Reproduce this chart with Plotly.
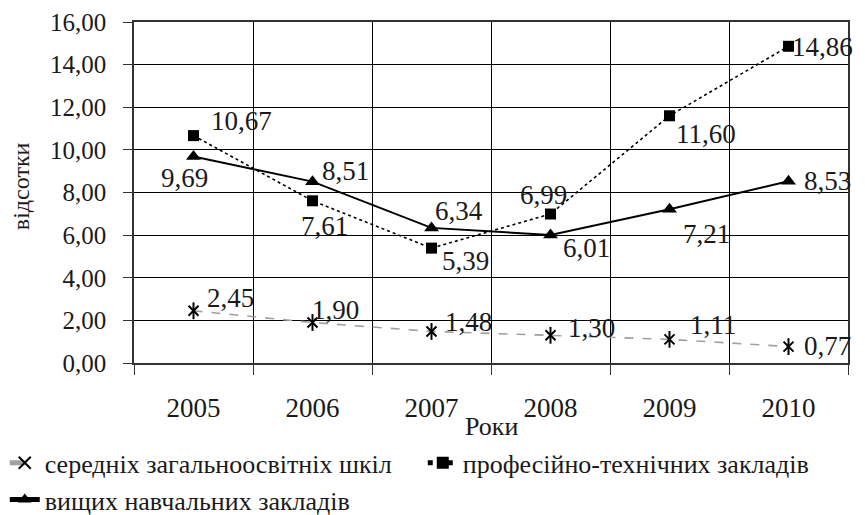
import plotly.graph_objects as go

years = ["2005", "2006", "2007", "2008", "2009", "2010"]
secondary = [2.45, 1.90, 1.48, 1.30, 1.11, 0.77]
vocational = [10.67, 7.61, 5.39, 6.99, 11.60, 14.86]
higher = [9.69, 8.51, 6.34, 6.01, 7.21, 8.53]

names = [
    "середніх загальноосвітніх шкіл",
    "професійно-технічних закладів",
    "вищих навчальних закладів",
]

# label offsets from the point, in px (dx right, dy down)
off_secondary = [(37, -13), (23, -13), (37, -9), (41, -7), (43, -14), (39, -1)]
off_vocational = [(48, -15), (12, 25), (34, 13), (-7, -19), (36, 18), (34, 1)]
off_higher = [(-9, 22), (33, -11), (27, -17), (36, 13), (37, 25), (39, 0)]

FONT = "Liberation Serif"
TXT = "#1a1a1a"


def lbl(v):
    return f"{v:.2f}".replace(".", ",")


fig = go.Figure()
fig.add_trace(go.Scatter(
    x=years, y=secondary, name=names[0], mode="lines+markers",
    line=dict(color="#a0a0a0", width=1.6, dash="dash"),
    marker=dict(symbol="x-thin-open", size=10, color="black", line=dict(color="black", width=2)),
))
# vertical stroke of the star marker
fig.add_trace(go.Scatter(
    x=years, y=secondary, mode="markers", showlegend=False, hoverinfo="skip",
    marker=dict(symbol="line-ns-open", size=12, color="black", line=dict(color="black", width=2)),
))
fig.add_trace(go.Scatter(
    x=years, y=vocational, name=names[1], mode="lines+markers",
    line=dict(color="black", width=1.6, dash="dot"),
    marker=dict(symbol="square", size=11, color="black"),
))
fig.add_trace(go.Scatter(
    x=years, y=higher, name=names[2], mode="lines+markers",
    line=dict(color="black", width=2),
    marker=dict(symbol="triangle-up", size=13, color="black"),
))

annotations = []
for vals, offs in [(secondary, off_secondary), (vocational, off_vocational), (higher, off_higher)]:
    # category axis: annotations are placed by category index
    for i, (v, (dx, dy)) in enumerate(zip(vals, offs)):
        annotations.append(dict(
            x=i, y=v, text=lbl(v), showarrow=False,
            xanchor="center", yanchor="middle", xshift=dx, yshift=-dy,
            font=dict(family=FONT, size=27, color=TXT),
        ))

annotations += [
    dict(text="Роки", x=0.5, y=-0.185, xref="paper", yref="paper",
         xanchor="center", yanchor="middle",
         showarrow=False, font=dict(family=FONT, size=26, color=TXT)),
    dict(text="відсотки", x=-0.159, y=0.52, xref="paper", yref="paper",
         xanchor="center", yanchor="middle",
         textangle=-90, showarrow=False, font=dict(family=FONT, size=24, color=TXT)),
]

# page has an 8px body margin, so the figure is a bit smaller than the window
fig.update_layout(
    width=857, height=507,
    margin=dict(l=126, r=17, t=14, b=152, autoexpand=False),
    paper_bgcolor="white", plot_bgcolor="white",
    separators=", ",
    font=dict(family=FONT, color=TXT, size=24),
    showlegend=True,
    legend=dict(
        orientation="h", x=-0.181, xanchor="left", y=-0.224, yanchor="top",
        font=dict(family=FONT, size=26, color=TXT),
        tracegroupgap=0, itemsizing="constant",
        entrywidth=373, entrywidthmode="pixels",
    ),
    annotations=annotations,
)
fig.update_xaxes(
    type="category", tickson="boundaries", range=[-0.5, 5.5],
    showgrid=True, gridcolor="black", gridwidth=1,
    showline=True, linecolor="#333", linewidth=1.5, mirror=True,
    ticks="outside", ticklen=10, tickcolor="#333",
    tickfont=dict(family=FONT, size=27, color=TXT), ticklabelstandoff=20,
)
fig.update_yaxes(
    range=[0, 16], dtick=2, tickformat=".2f",
    showgrid=True, gridcolor="black", gridwidth=1,
    showline=True, linecolor="#333", linewidth=1.5, mirror=True,
    ticks="outside", ticklen=9, tickcolor="#333",
    tickfont=dict(family=FONT, size=25, color=TXT), ticklabelstandoff=12,
    zeroline=False,
)

fig.write_html("out.html")
